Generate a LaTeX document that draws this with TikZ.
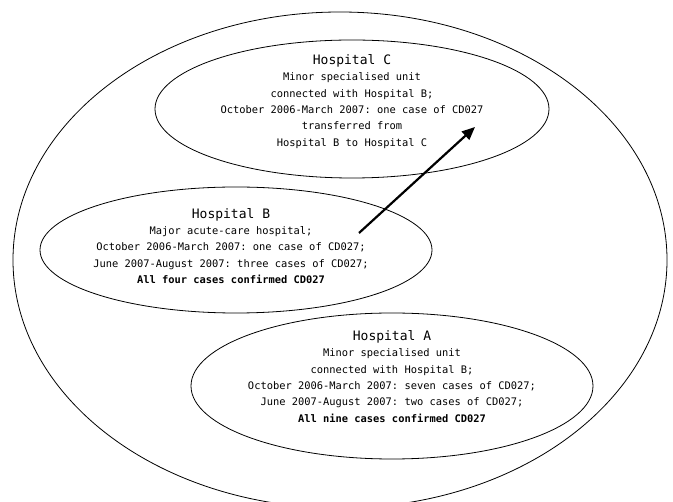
\documentclass[tikz,border=0pt]{standalone}
\usepackage{fontspec}
\setmonofont{DejaVu Sans Mono}
\usetikzlibrary{shapes.geometric,arrows.meta}
\begin{document}
\begin{tikzpicture}[x=1pt,y=-1pt,
  oval/.style={draw, ellipse, line width=0.8pt, inner sep=0pt},
  info/.style={align=center, inner sep=0pt, font=\ttfamily\fontsize{10.4}{16.3}\selectfont},
  link/.style={line width=2.2pt, -{Triangle[length=13pt,width=11pt]}}]
\useasboundingbox (0,0) rectangle (673,502);
\node[oval, minimum width=654pt, minimum height=496pt] (outer) at (340,260) {};
\node[oval, minimum width=394pt, minimum height=138pt] (C) at (352,109) {};
\node[oval, minimum width=392pt, minimum height=126pt] (B) at (236,250) {};
\node[oval, minimum width=402pt, minimum height=146pt] (A) at (392,386) {};
\node[info] (Ct) at (352,101.5) {{\fontsize{13}{16}\selectfont Hospital C}\\Minor specialised unit\\connected with Hospital B;\\October 2006-March 2007: one case of CD027\\transferred from\\Hospital B to Hospital C};
\node[info] (Bt) at (231,246) {{\fontsize{13}{16}\selectfont Hospital B}\\Major acute-care hospital;\\October 2006-March 2007: one case of CD027;\\June 2007-August 2007: three cases of CD027;\\\textbf{All four cases confirmed CD027}};
\node[info] (At) at (392,376.5) {{\fontsize{13}{16}\selectfont Hospital A}\\Minor specialised unit\\connected with Hospital B;\\October 2006-March 2007: seven cases of CD027;\\June 2007-August 2007: two cases of CD027;\\\textbf{All nine cases confirmed CD027}};
\coordinate (from) at (359,233);
\coordinate (to) at (475,127);
\draw[link] (from) -- (to);
\end{tikzpicture}
\end{document}
